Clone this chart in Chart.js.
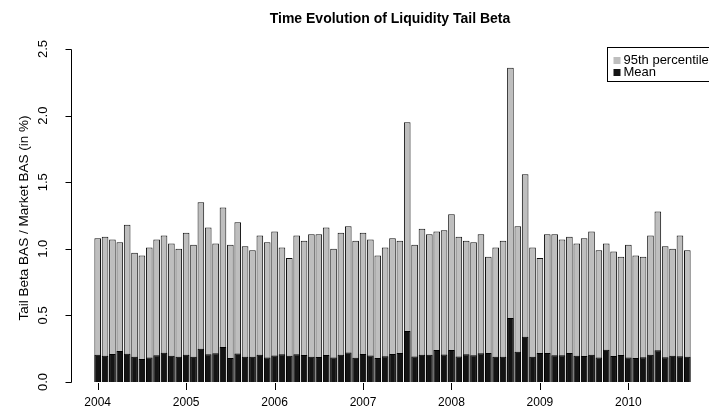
<!DOCTYPE html>
<html>
<head>
<meta charset="utf-8">
<script src="https://cdn.jsdelivr.net/npm/chart.js@4/dist/chart.umd.min.js"></script>
<style>
  body { margin: 0; background: #fff; }
  #wrap { position: relative; width: 709px; height: 409px; }
</style>
</head>
<body>
<div id="wrap"><canvas id="grafico"></canvas></div>
<script>
// monthly observations, Jan 2004 .. Sep 2010
const anos = [2004, 2005, 2006, 2007, 2008, 2009, 2010];
const meses = [];
anos.forEach(a => {
    for (let m = 1; m <= 12; m++) {
        if (a === 2010 && m > 9) break;
        meses.push(a + '-' + String(m).padStart(2, '0'));
    }
});

const percentil95 = [
    1.08, 1.09, 1.07, 1.05, 1.18, 0.97, 0.95, 1.01, 1.07, 1.10, 1.04, 1.00,
    1.12, 1.03, 1.35, 1.16, 1.04, 1.31, 1.03, 1.20, 1.02, 0.99, 1.10, 1.05,
    1.13, 1.01, 0.93, 1.10, 1.06, 1.11, 1.11, 1.16, 1.00, 1.12, 1.17, 1.06,
    1.12, 1.07, 0.95, 1.01, 1.08, 1.06, 1.95, 1.03, 1.15, 1.11, 1.13, 1.14,
    1.26, 1.09, 1.06, 1.05, 1.11, 0.94, 1.01, 1.06, 2.36, 1.17, 1.56, 1.01,
    0.93, 1.11, 1.11, 1.07, 1.09, 1.04, 1.08, 1.13, 0.99, 1.04, 0.98, 0.94,
    1.03, 0.95, 0.94, 1.10, 1.28, 1.02, 1.00, 1.10, 0.99
];

const media = [
    0.205, 0.197, 0.210, 0.232, 0.212, 0.190, 0.172, 0.184, 0.200, 0.219, 0.198, 0.190,
    0.205, 0.189, 0.250, 0.209, 0.215, 0.262, 0.180, 0.214, 0.190, 0.190, 0.204, 0.184,
    0.199, 0.209, 0.197, 0.209, 0.203, 0.190, 0.187, 0.203, 0.184, 0.205, 0.221, 0.182,
    0.211, 0.199, 0.181, 0.194, 0.210, 0.218, 0.382, 0.191, 0.204, 0.205, 0.240, 0.206,
    0.240, 0.191, 0.209, 0.200, 0.215, 0.218, 0.190, 0.190, 0.480, 0.228, 0.340, 0.190,
    0.218, 0.218, 0.200, 0.200, 0.218, 0.198, 0.195, 0.205, 0.183, 0.243, 0.195, 0.203,
    0.183, 0.180, 0.185, 0.205, 0.238, 0.185, 0.198, 0.193, 0.190
];

const ticksY = [0, 0.5, 1, 1.5, 2, 2.5];
const titulo = 'Time Evolution of Liquidity Tail Beta';
const tituloY = 'Tail Beta BAS / Market BAS (in %)';

const fonte = '"Liberation Sans", Arial, Helvetica, sans-serif';

// axes, title and legend drawn R-style
const eixosR = {
    id: 'eixosR',
    afterDraw(chart) {
        const ctx = chart.ctx;
        const area = chart.chartArea;
        const y = chart.scales.y;
        const x = chart.scales.x;
        ctx.save();
        ctx.strokeStyle = '#000';
        ctx.fillStyle = '#000';
        ctx.lineWidth = 1;

        // y axis
        const xEixo = 71.5;
        ctx.beginPath();
        ctx.moveTo(xEixo, Math.round(y.getPixelForValue(0)) + 0.5);
        ctx.lineTo(xEixo, Math.round(y.getPixelForValue(2.5)) + 0.5);
        ticksY.forEach(v => {
            const py = Math.round(y.getPixelForValue(v)) + 0.5;
            ctx.moveTo(xEixo, py);
            ctx.lineTo(xEixo - 6, py);
        });
        ctx.stroke();

        ctx.font = '13px ' + fonte;
        ctx.textAlign = 'center';
        ctx.textBaseline = 'middle';
        ticksY.forEach(v => {
            const py = y.getPixelForValue(v);
            ctx.save();
            ctx.translate(43, py);
            ctx.rotate(-Math.PI / 2);
            ctx.fillText(v.toFixed(1), 0, 0);
            ctx.restore();
        });

        ctx.save();
        ctx.translate(24, 218);
        ctx.rotate(-Math.PI / 2);
        ctx.font = '13.5px ' + fonte;
        ctx.fillText(tituloY, 0, 0);
        ctx.restore();

        // x axis: year ticks at January
        ctx.beginPath();
        meses.forEach((m, i) => {
            if (!m.endsWith('-01')) return;
            const px = Math.round(x.getPixelForValue(i)) + 0.5;
            ctx.moveTo(px, area.bottom + 1);
            ctx.lineTo(px, area.bottom + 8);
        });
        ctx.stroke();
        ctx.font = '12px ' + fonte;
        meses.forEach((m, i) => {
            if (!m.endsWith('-01')) return;
            ctx.fillText(m.slice(0, 4), x.getPixelForValue(i), 403);
        });

        // title
        ctx.font = 'bold 14px ' + fonte;
        ctx.fillText(titulo, 390, 19);

        // legend
        const lx = 607.5, ly = 47.5;
        ctx.strokeRect(lx, ly, 120, 34);
        ctx.font = '13px ' + fonte;
        ctx.textAlign = 'left';
        const itens = chart.data.datasets.slice().reverse();
        itens.forEach((ds, k) => {
            const cy = ly + 13 + k * 12;
            ctx.fillStyle = ds.backgroundColor;
            ctx.fillRect(lx + 6, cy - 3.5, 7, 7);
            ctx.fillStyle = '#000';
            ctx.fillText(ds.label, lx + 16, cy);
        });
        ctx.restore();
    }
};

new Chart(document.getElementById('grafico').getContext('2d'), {
    type: 'bar',
    data: {
        labels: meses,
        datasets: [
            {
                label: 'Mean',
                data: media,
                backgroundColor: '#141414',
                borderColor: '#000',
                borderWidth: 1,
                grouped: false,
                order: 0,
                categoryPercentage: 1,
                barPercentage: 0.9
            },
            {
                label: '95th percentile',
                data: percentil95,
                backgroundColor: '#bebebe',
                borderColor: '#111',
                borderWidth: 1,
                grouped: false,
                order: 1,
                categoryPercentage: 1,
                barPercentage: 0.9
            }
        ]
    },
    options: {
        responsive: true,
        maintainAspectRatio: false,
        animation: false,
        layout: { padding: { left: 94, right: 18, top: 49, bottom: 27 } },
        scales: {
            x: { display: false, offset: true },
            y: { display: false, min: 0, max: 2.5 }
        },
        plugins: {
            legend: { display: false },
            tooltip: { enabled: false }
        }
    },
    plugins: [eixosR]
});
</script>
</body>
</html>
